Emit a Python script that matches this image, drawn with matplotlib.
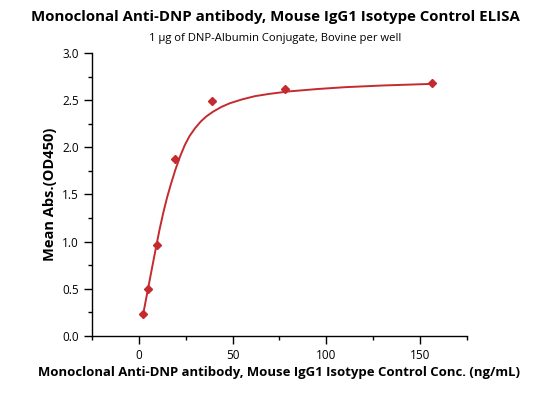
import numpy as np
import matplotlib
matplotlib.use("Agg")
import matplotlib.pyplot as plt
from matplotlib.ticker import MultipleLocator, FormatStrFormatter

plt.rcParams['font.family'] = ['Open Sans', 'DejaVu Sans']

# measured points (ng/mL, OD450)
conc = [2.44, 4.88, 9.77, 19.53, 39.06, 78.13, 156.25]
od450 = [0.23, 0.50, 0.96, 1.88, 2.49, 2.62, 2.68]

# fitted curve
fit_x = [2.2, 3.5, 4.8, 6.0, 7.5, 9.3, 11.0, 13.0, 15.0, 17.0, 19.5, 22.0,
         24.5, 27.0, 30.0, 33.0, 36.0, 39.6, 44.0, 48.6, 55.0, 62.0, 70.0,
         80.0, 95.0, 110.0, 130.0, 156.25]
fit_y = [0.22, 0.355, 0.49, 0.615, 0.77, 0.955, 1.125, 1.305, 1.465, 1.605,
         1.765, 1.905, 2.025, 2.12, 2.205, 2.275, 2.33, 2.38, 2.43, 2.47,
         2.51, 2.545, 2.57, 2.595, 2.62, 2.64, 2.658, 2.675]

red = '#C42A2E'

fig = plt.figure(figsize=(5.5, 3.93), dpi=100)
ax = fig.add_axes([0.1673, 0.1458, 0.849 - 0.1673, 0.8644 - 0.1458])

ax.plot(fit_x, fit_y, color=red, lw=1.4, zorder=2, solid_joinstyle='round')
ax.plot(conc, od450, 'D', color=red, markersize=4.5, zorder=3)

ax.set_xlim(-25, 175)
ax.set_ylim(0, 3.0)
ax.xaxis.set_major_locator(MultipleLocator(50))
ax.xaxis.set_minor_locator(MultipleLocator(25))
ax.yaxis.set_major_locator(MultipleLocator(0.5))
ax.yaxis.set_minor_locator(MultipleLocator(0.25))
ax.yaxis.set_major_formatter(FormatStrFormatter('%.1f'))

ax.spines['top'].set_visible(False)
ax.spines['right'].set_visible(False)
for s in ['left', 'bottom']:
    ax.spines[s].set_linewidth(1.0)
ax.tick_params(which='major', length=6, width=1.0, labelsize=8.5, direction='out')
ax.tick_params(which='minor', length=3, width=1.0, direction='out')

ax.set_xlabel('Monoclonal Anti-DNP antibody, Mouse IgG1 Isotype Control Conc. (ng/mL)',
              fontsize=9.45, fontweight='bold', labelpad=3)
ax.set_ylabel('Mean Abs.(OD450)', fontsize=10.5, fontweight='bold', labelpad=4)

fig.text(0.5, 0.957, 'Monoclonal Anti-DNP antibody, Mouse IgG1 Isotype Control ELISA',
         ha='center', va='center', fontsize=10.8, fontweight='bold')
fig.text(0.5, 0.903, '1 µg of DNP-Albumin Conjugate, Bovine per well',
         ha='center', va='center', fontsize=8.1)

fig.savefig('out.png', dpi=100)
